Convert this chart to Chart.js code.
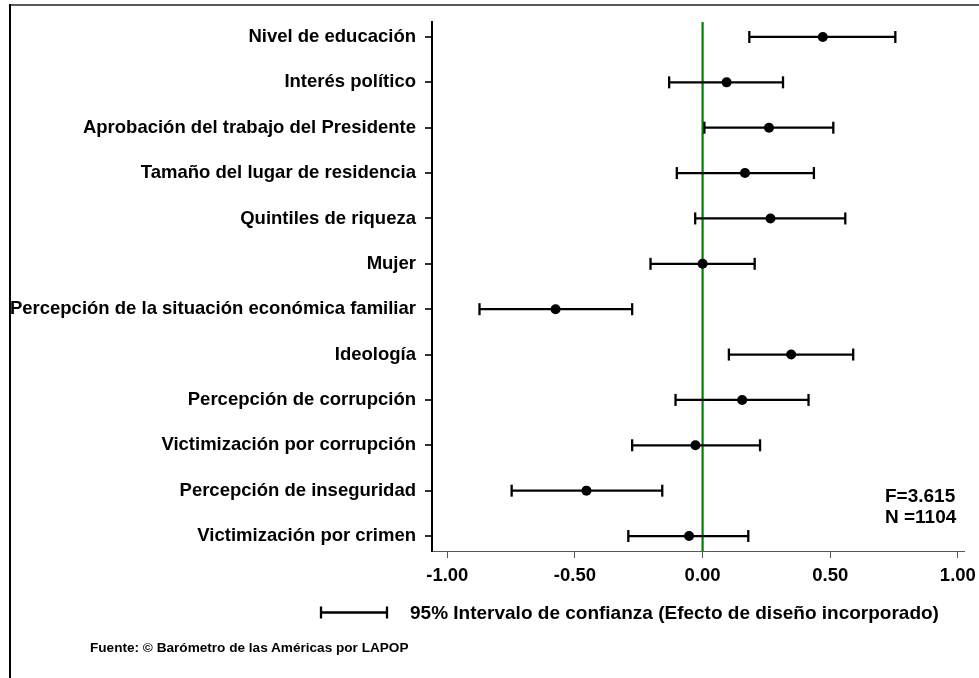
<!DOCTYPE html>
<html><head><meta charset="utf-8">
<script src="https://cdn.jsdelivr.net/npm/chart.js@4"></script>
<style>
html,body{margin:0;padding:0;background:#fff;}
#wrap{position:relative;width:979px;height:678px;overflow:hidden;background:#fff;}
canvas{position:absolute;left:0;top:0;}
.t{position:absolute;font-family:"Liberation Sans",Arial,sans-serif;font-weight:bold;color:#000;white-space:nowrap;}
</style></head><body>
<div id="wrap"><canvas id="c" width="979" height="678"></canvas>
<div class="t" style="left:885px;top:485px;font-size:19px;line-height:21px">F=3.615<br>N =1104</div>
<div class="t" style="left:410px;top:602px;font-size:19px;line-height:22px">95% Intervalo de confianza (Efecto de diseño incorporado)</div>
<div class="t" style="left:90px;top:639px;font-size:13.6px;line-height:18px">Fuente: © Barómetro de las Américas por LAPOP</div>
</div>
<script>
const categories = [
  "Nivel de educación",
  "Interés político",
  "Aprobación del trabajo del Presidente",
  "Tamaño del lugar de residencia",
  "Quintiles de riqueza",
  "Mujer",
  "Percepción de la situación económica familiar",
  "Ideología",
  "Percepción de corrupción",
  "Victimización por corrupción",
  "Percepción de inseguridad",
  "Victimización por crimen"
];
const estimates = [0.471, 0.094, 0.260, 0.166, 0.266, 0.000, -0.576, 0.347, 0.155, -0.028, -0.455, -0.053];
const lower     = [0.183, -0.131, 0.007, -0.101, -0.029, -0.204, -0.874, 0.103, -0.106, -0.276, -0.748, -0.291];
const upper     = [0.755, 0.315, 0.512, 0.436, 0.559, 0.204, -0.276, 0.590, 0.415, 0.225, -0.158, 0.179];
const xTicks = [-1, -0.5, 0, 0.5, 1];

const yMin = 0.67, yMax = 12.33;
const FONT = {family: '"Liberation Sans", Arial, sans-serif', size: 18.5, weight: 'bold'};

const datasets = [];
datasets.push({
  type: 'scatter', label: 'ref', order: 3,
  data: [{x: 0, y: yMin}, {x: 0, y: yMax}],
  showLine: true, borderColor: '#008000', borderWidth: 2.2, pointRadius: 0
});
categories.forEach((c, i) => {
  datasets.push({
    type: 'scatter', label: c + ' IC', order: 2,
    data: [{x: lower[i], y: i + 1}, {x: upper[i], y: i + 1}],
    showLine: true, borderColor: '#000', borderWidth: 2.3,
    pointStyle: 'line', rotation: 90, pointRadius: 6, pointBorderWidth: 2.3,
    pointBorderColor: '#000', pointBackgroundColor: '#000'
  });
});
datasets.push({
  type: 'scatter', label: 'Coeficiente', order: 1,
  data: estimates.map((v, i) => ({x: v, y: i + 1})),
  pointRadius: 5, pointBackgroundColor: '#000', pointBorderColor: '#000', pointBorderWidth: 0
});

const decor = {
  id: 'decor',
  beforeDraw(chart) {
    const ctx = chart.ctx;
    ctx.save();
    ctx.fillStyle = '#fff';
    ctx.fillRect(0, 0, chart.width, chart.height);
    ctx.restore();
  },
  afterDraw(chart) {
    const ctx = chart.ctx;
    ctx.save();
    ctx.strokeStyle = '#5a5a5a'; ctx.lineWidth = 2;
    ctx.beginPath(); ctx.moveTo(9, 5); ctx.lineTo(979, 5); ctx.stroke();
    ctx.strokeStyle = '#000';
    ctx.beginPath(); ctx.moveTo(10, 4); ctx.lineTo(10, 678); ctx.stroke();
    ctx.lineWidth = 2.3; ctx.strokeStyle = '#000';
    ctx.beginPath();
    ctx.moveTo(321, 612.5); ctx.lineTo(387, 612.5);
    ctx.moveTo(321, 606.5); ctx.lineTo(321, 618.5);
    ctx.moveTo(387, 606.5); ctx.lineTo(387, 618.5);
    ctx.stroke();
    ctx.restore();
  }
};

new Chart(document.getElementById('c'), {
  type: 'scatter',
  data: {datasets},
  options: {
    responsive: false, animation: false, events: [],
    layout: {padding: {left: 10, top: 22, right: 15, bottom: 0}},
    plugins: {legend: {display: false}, tooltip: {enabled: false}},
    scales: {
      x: {
        type: 'linear', min: -1.06, max: 1.024,
        afterBuildTicks: s => { s.ticks = xTicks.map(v => ({value: v})); },
        afterFit: s => { s.height = 127; s.paddingLeft = 0; s.paddingRight = 0; },
        ticks: {font: FONT, color: '#000', padding: 7, callback: v => Number(v).toFixed(2)},
        grid: {drawOnChartArea: false, drawTicks: true, tickLength: 7, color: '#555', lineWidth: 1},
        border: {display: true, color: '#555', width: 1}
      },
      y: {
        type: 'linear', reverse: true, min: yMin, max: yMax,
        afterBuildTicks: s => { s.ticks = categories.map((c, i) => ({value: i + 1})); },
        afterFit: s => { s.width = 422; s.paddingTop = 0; s.paddingBottom = 0; },
        ticks: {font: FONT, color: '#000', padding: 9, autoSkip: false,
          callback: v => categories[Math.round(v) - 1]},
        grid: {drawOnChartArea: false, drawTicks: true, tickLength: 7, color: '#333', lineWidth: 2},
        border: {display: true, color: '#000', width: 2}
      }
    }
  },
  plugins: [decor]
});
</script>
</body></html>
